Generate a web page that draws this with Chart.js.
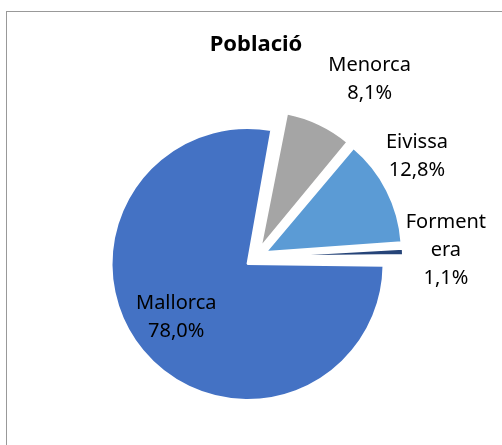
<!DOCTYPE html>
<html>
<head>
<meta charset="utf-8">
<script src="https://cdn.jsdelivr.net/npm/chart.js@4"></script>
<style>
  html, body { margin: 0; padding: 0; background: #fff; overflow: hidden; }
  #frame { position: absolute; left: 6px; top: 11px; width: 560px; height: 480px; border: 1px solid #999; }
  #pieChart { position: absolute; left: 0; top: 0; }
</style>
</head>
<body>
<div id="frame"></div>
<canvas id="pieChart" width="502" height="445"></canvas>
<script>
// data
var islands = ['Mallorca', 'Menorca', 'Eivissa', 'Formentera'];
var shares = [78.0, 8.1, 12.8, 1.1];
var colors = ['#4472C4', '#A5A5A5', '#5B9BD5', '#264478'];

// label placement: degrees from the slice middle, distance from the pie centre
var labelTurn = [2.5, 7.2, -5.1, 0];
var labelDist = [100, 211, 190, 190];

var R = 136;
var EXPLODE = 44; // chart.js moves a slice by offset/4 px
var font = "'Noto Sans', 'Open Sans', sans-serif";

function fmt(v){
    return v.toFixed(1).replace('.', ',') + '%';
}
function lines(name, v){
    var out = [];
    if(name.length > 8){
        out.push(name.slice(0, 7));
        out.push(name.slice(7));
    } else {
        out.push(name);
    }
    out.push(fmt(v));
    return out;
}

// chart.js grows exploded slices a bit, keep them all the same size
var sameRadius = {
    id: 'sameRadius',
    afterDatasetUpdate: function(chart, args){
        args.meta.data.forEach(function(arc){
            var off = (arc.options.offset || 0) / 4;
            var fix = 1 - Math.sin(Math.min(Math.PI, arc.circumference));
            arc.outerRadius = R - off * fix;
        });
    }
};

var pieLabels = {
    id: 'pieLabels',
    afterDraw: function(chart){
        var ctx = chart.ctx;
        var arcs = chart.getDatasetMeta(0).data;
        ctx.save();
        ctx.fillStyle = '#000';
        ctx.textAlign = 'center';
        ctx.textBaseline = 'middle';
        ctx.font = '20px ' + font;
        arcs.forEach(function(arc, i){
            var mid = (arc.startAngle + arc.endAngle) / 2 + labelTurn[i] * Math.PI / 180;
            var cx = arc.x + Math.cos(mid) * labelDist[i];
            var cy = arc.y + Math.sin(mid) * labelDist[i];
            var l = lines(islands[i], shares[i]);
            var lh = 28;
            var y0 = cy - (l.length - 1) * lh / 2;
            l.forEach(function(t, k){
                ctx.fillText(t, cx, y0 + k * lh);
            });
        });
        ctx.restore();
    }
};

new Chart(document.getElementById('pieChart'), {
    type: 'pie',
    data: {
        labels: islands,
        datasets: [{
            data: shares,
            backgroundColor: colors,
            borderColor: '#fff',
            borderWidth: 2,
            offset: EXPLODE,
            hoverOffset: 0
        }]
    },
    options: {
        responsive: false,
        animation: false,
        rotation: 90,
        radius: R,
        events: [],
        layout: {
            padding: { left: 10, right: 0, top: 0, bottom: 0 }
        },
        plugins: {
            legend: { display: false },
            tooltip: { enabled: false },
            title: {
                display: true,
                text: 'Població',
                color: '#000',
                font: { family: font, size: 22, weight: 'bold', lineHeight: 1.2 },
                padding: { top: 32, bottom: 10.6 }
            }
        }
    },
    plugins: [sameRadius, pieLabels]
});
</script>
</body>
</html>
